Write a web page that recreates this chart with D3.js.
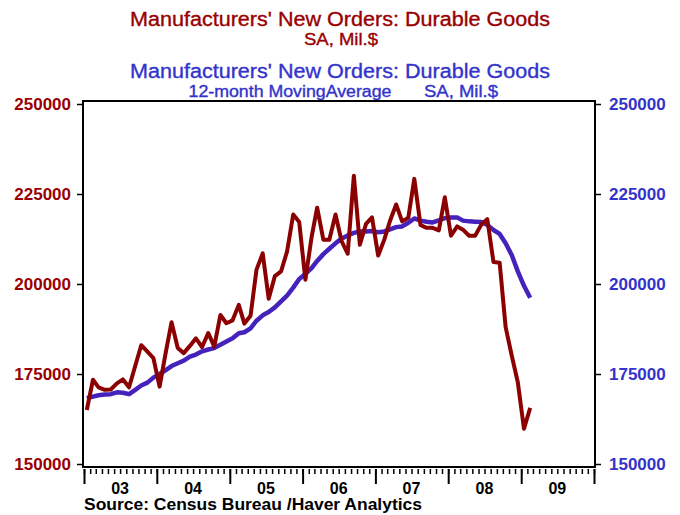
<!DOCTYPE html>
<html>
<head>
<meta charset="utf-8">
<script src="https://cdn.jsdelivr.net/npm/d3@7"></script>
<style>
  body { margin: 0; background: #fff; }
  svg { display: block; font-family: "Liberation Sans", Arial, sans-serif; }
</style>
</head>
<body>
<div id="chart"></div>
<script>
// monthly data, first point Jan 2003, last Feb 2009
const firstMonth = "2003-01"
const orders = [
  165000, 173400, 171300, 170600, 170700, 172400, 173500, 171300, 177300, 183000, 181200, 179400,
  171500, 181000, 189400, 182200, 180800, 182800, 184900, 182500, 186400, 182600, 191400, 189100,
  189900, 194200, 189000, 191200, 204000, 208500, 195900, 202200, 203500, 209000, 219300, 217200,
  201200, 213000, 221200, 212300, 212300, 219300, 212000, 208400, 230100, 210900, 216700, 218500,
  207900, 212400, 217500, 222100, 217400, 218400, 229200, 216400, 215600, 215600, 214900, 224100,
  213400, 216000, 215100, 213400, 213400, 216500, 218000, 206100, 205900, 188000, 180000, 172700,
  159800, 165600
]
const movingAvg = [
  168300, 168700, 169100, 169300, 169400, 169900, 169800, 169400, 170600, 171800, 172600, 174000,
  175000, 176100, 177200, 178000, 178700, 179800, 180400, 181300, 181800, 182200, 183100, 184000,
  184900, 186300, 186600, 187700, 189800, 191300, 192200, 193500, 195200, 196800, 199000, 201400,
  202800, 204400, 206400, 208300, 209800, 211300, 212600, 213500, 214200, 214600, 214600, 214700,
  214400, 214600, 215200, 215800, 216000, 217000, 218200, 217600, 217300, 217100, 217700, 218300,
  218500, 218500, 217600, 217400, 217300, 217200, 216400, 215000, 213900, 211300, 208000, 203500,
  199500, 196200
]
const yTicks = [150000, 175000, 200000, 225000, 250000]
const years = [2003, 2004, 2005, 2006, 2007, 2008, 2009]

const red = "#8b0000"
const redText = "#990000"
const blue = "#4422bb"
const blueText = "#3333cc"

var width = 680, height = 515
var frame = {left: 83, right: 595, top: 101, bottom: 467}

var svg = d3.select("#chart")
    .append("svg")
    .attr("width", width)
    .attr("height", height)

var start = d3.timeParse("%Y-%m")(firstMonth)
// points sit in the middle of each month
function monthDate(i) {
    return d3.timeDay.offset(d3.timeMonth.offset(start, i), 14)
}

var x = d3.scaleTime()
    .domain([new Date(2003, 0, 1), new Date(2010, 0, 1)])
    .range([84, 594])

var y = d3.scaleLinear()
    .domain([150000, 250000])
    .range([464, 104])

// titles
function title(txt, xPos, yPos, size, color, len) {
    var t = svg.append("text")
        .attr("x", xPos).attr("y", yPos)
        .attr("text-anchor", "middle")
        .style("font-size", size + "px")
        .style("fill", color)
        .style("stroke", color)
        .style("stroke-width", 0.35)
        .text(txt)
    if (len) t.attr("textLength", len).attr("lengthAdjust", "spacingAndGlyphs")
}
title("Manufacturers' New Orders: Durable Goods", 340, 26, 20, redText, 420)
title("SA, Mil.$", 341, 45, 16, redText, 74)
title("Manufacturers' New Orders: Durable Goods", 340, 78, 20, blueText, 420)
title("12-month MovingAverage", 290, 97, 16, blueText, 203)
title("SA, Mil.$", 461, 97, 16, blueText, 74)

// y axes
var yLeft = svg.append("g")
    .attr("transform", "translate(" + frame.left + ",0)")
    .call(d3.axisLeft(y).tickValues(yTicks).tickSize(6).tickPadding(6).tickFormat(d3.format("d")))
yLeft.select(".domain").remove()
yLeft.selectAll("text").style("font-size", "17px").style("font-weight", "bold").style("fill", redText)

var yRight = svg.append("g")
    .attr("transform", "translate(" + frame.right + ",0)")
    .call(d3.axisRight(y).tickValues(yTicks).tickSize(6).tickPadding(8).tickFormat(d3.format("d")))
yRight.select(".domain").remove()
yRight.selectAll("text").style("font-size", "17px").style("font-weight", "bold").style("fill", blueText)

svg.selectAll(".tick line").attr("stroke", "#000").attr("stroke-width", 1.5)

// x axis: monthly minor ticks, long ticks at each January
var xMinor = svg.append("g")
    .attr("transform", "translate(0,469)")
    .call(d3.axisBottom(x).ticks(d3.timeMonth.every(1)).tickSize(5).tickFormat(""))
xMinor.select(".domain").remove()
xMinor.selectAll("line").attr("stroke", "#000").attr("stroke-width", 1.5)

var xMajor = svg.append("g")
    .attr("transform", "translate(0,469)")
    .call(d3.axisBottom(x).ticks(d3.timeYear.every(1)).tickSize(15).tickFormat(""))
xMajor.select(".domain").remove()
xMajor.selectAll("line").attr("stroke", "#000").attr("stroke-width", 2)

svg.selectAll(".yearlabel")
    .data(years)
    .enter()
    .append("text")
    .attr("class", "yearlabel")
    .attr("x", d => x(new Date(d, 6, 1)))
    .attr("y", 494)
    .attr("text-anchor", "middle")
    .style("font-size", "16px")
    .style("font-weight", "bold")
    .text(d => d3.format("02d")(d % 100))

svg.append("text")
    .attr("x", 84).attr("y", 510)
    .style("font-size", "16px")
    .style("font-weight", "bold")
    .attr("textLength", 338).attr("lengthAdjust", "spacingAndGlyphs")
    .text("Source:  Census Bureau /Haver Analytics")

// lines
var line = d3.line()
    .x((d, i) => x(monthDate(i)))
    .y(d => y(d))

svg.append("path")
    .datum(movingAvg)
    .attr("fill", "none")
    .attr("stroke", blue)
    .attr("stroke-width", 4.5)
    .attr("stroke-linejoin", "round")
    .attr("d", line)

svg.append("path")
    .datum(orders)
    .attr("fill", "none")
    .attr("stroke", red)
    .attr("stroke-width", 4)
    .attr("stroke-linejoin", "round")
    .attr("d", line)

// frame
svg.append("rect")
    .attr("x", frame.left).attr("y", frame.top)
    .attr("width", frame.right - frame.left)
    .attr("height", frame.bottom - frame.top)
    .attr("fill", "none")
    .attr("stroke", "#000")
    .attr("stroke-width", 2)
</script>
</body>
</html>
